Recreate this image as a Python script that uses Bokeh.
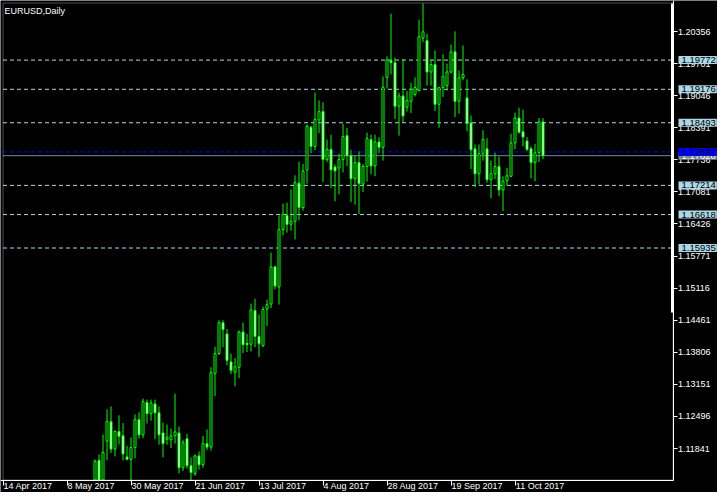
import numpy as np
from bokeh.plotting import figure
from bokeh.models import (ColumnDataSource, FixedTicker, Range1d, Label, LinearAxis,
                          PrintfTickFormatter, CustomJSTickFormatter, BoxAnnotation)
from bokeh.embed import file_html
from bokeh.resources import INLINE

# ---------------- data ----------------
symbol_title = "EURUSD,Daily"
first_bar = 23  # bar index of first visible candle (bar 0 = 14 Apr 2017)

opens = [1.1100, 1.1160, 1.1110, 1.1199, 1.1239, 1.1183, 1.1219, 1.1210, 1.1167, 1.1162,
         1.1186, 1.1243, 1.1212, 1.1278, 1.1255, 1.1275, 1.1257, 1.1216, 1.1203, 1.1202,
         1.1210, 1.1216, 1.1145, 1.1204, 1.1149, 1.1133, 1.1169, 1.1151, 1.1194, 1.1187,
         1.1337, 1.1378, 1.1441, 1.1418, 1.1361, 1.1340, 1.1350, 1.1422, 1.1399, 1.1397,
         1.1466, 1.1413, 1.1394, 1.1469, 1.1479, 1.1555, 1.1514, 1.1631, 1.1660, 1.1642,
         1.1648, 1.1726, 1.1676, 1.1753, 1.1840, 1.1801, 1.1855, 1.1872, 1.1774, 1.1795,
         1.1759, 1.1757, 1.1774, 1.1823, 1.1782, 1.1735, 1.1768, 1.1724, 1.1760, 1.1815,
         1.1761, 1.1810, 1.1799, 1.1942, 1.1976, 1.1972, 1.1883, 1.1904, 1.1881, 1.1893,
         1.1907, 1.1915, 1.2022, 1.2017, 1.1953, 1.1968, 1.1887, 1.1921, 1.1925, 1.1953,
         1.1994, 1.1893, 1.1941, 1.1900, 1.1849, 1.1796, 1.1745, 1.1786, 1.1796, 1.1733,
         1.1745, 1.1760, 1.1712, 1.1731, 1.1740, 1.1808, 1.1859, 1.1831, 1.1812, 1.1796,
         1.1768, 1.1788, 1.1851]
highs = [1.1162, 1.1172, 1.1213, 1.1264, 1.1270, 1.1221, 1.1252, 1.1236, 1.1190, 1.1207,
         1.1254, 1.1258, 1.1286, 1.1284, 1.1284, 1.1284, 1.1270, 1.1237, 1.1233, 1.1225,
         1.1296, 1.1229, 1.1202, 1.1214, 1.1166, 1.1172, 1.1178, 1.1210, 1.1223, 1.1350,
         1.1392, 1.1446, 1.1446, 1.1428, 1.1378, 1.1369, 1.1425, 1.1441, 1.1418, 1.1480,
         1.1490, 1.1458, 1.1474, 1.1488, 1.1584, 1.1557, 1.1660, 1.1684, 1.1686, 1.1713,
         1.1742, 1.1770, 1.1765, 1.1846, 1.1843, 1.1911, 1.1895, 1.1891, 1.1815, 1.1825,
         1.1764, 1.1786, 1.1847, 1.1839, 1.1794, 1.1782, 1.1791, 1.1765, 1.1829, 1.1825,
         1.1825, 1.1820, 1.1944, 1.1985, 1.2072, 1.1982, 1.1911, 1.1980, 1.1914, 1.1931,
         1.1942, 1.2060, 1.2093, 1.2031, 1.1978, 1.1997, 1.1923, 1.1989, 1.1970, 1.2009,
         1.2036, 1.1956, 1.2007, 1.1938, 1.1864, 1.1805, 1.1805, 1.1834, 1.1818, 1.1772,
         1.1788, 1.1780, 1.1740, 1.1757, 1.1827, 1.1870, 1.1880, 1.1876, 1.1820, 1.1801,
         1.1806, 1.1859, 1.1859]
lows = [1.1092, 1.1098, 1.1102, 1.1160, 1.1175, 1.1168, 1.1192, 1.1160, 1.1160, 1.1110,
        1.1164, 1.1204, 1.1205, 1.1235, 1.1241, 1.1203, 1.1192, 1.1166, 1.1192, 1.1185,
        1.1194, 1.1133, 1.1138, 1.1143, 1.1118, 1.1128, 1.1141, 1.1145, 1.1181, 1.1180,
        1.1291, 1.1375, 1.1391, 1.1354, 1.1336, 1.1311, 1.1328, 1.1379, 1.1381, 1.1382,
        1.1391, 1.1371, 1.1391, 1.1434, 1.1471, 1.1509, 1.1478, 1.1619, 1.1625, 1.1629,
        1.1611, 1.1650, 1.1670, 1.1725, 1.1787, 1.1793, 1.1828, 1.1728, 1.1769, 1.1716,
        1.1689, 1.1703, 1.1748, 1.1761, 1.1687, 1.1682, 1.1663, 1.1708, 1.1729, 1.1744,
        1.1740, 1.1787, 1.1772, 1.1919, 1.1948, 1.1857, 1.1823, 1.1850, 1.1872, 1.1869,
        1.1903, 1.1913, 1.2014, 1.1925, 1.1925, 1.1873, 1.1839, 1.1902, 1.1915, 1.1949,
        1.1861, 1.1868, 1.1936, 1.1832, 1.1755, 1.1718, 1.1723, 1.1772, 1.1727, 1.1695,
        1.1734, 1.1699, 1.1669, 1.1720, 1.1738, 1.1795, 1.1827, 1.1801, 1.1791, 1.1736,
        1.1730, 1.1769, 1.1775]
closes = [1.1158, 1.1110, 1.1176, 1.1239, 1.1183, 1.1219, 1.1209, 1.1173, 1.1162, 1.1186,
          1.1243, 1.1212, 1.1280, 1.1255, 1.1277, 1.1257, 1.1212, 1.1194, 1.1207, 1.1210,
          1.1218, 1.1145, 1.1196, 1.1149, 1.1135, 1.1169, 1.1151, 1.1194, 1.1187, 1.1339,
          1.1378, 1.1441, 1.1427, 1.1364, 1.1344, 1.1351, 1.1422, 1.1396, 1.1396, 1.1467,
          1.1413, 1.1398, 1.1468, 1.1478, 1.1555, 1.1516, 1.1631, 1.1663, 1.1642, 1.1648,
          1.1727, 1.1676, 1.1751, 1.1842, 1.1801, 1.1856, 1.1872, 1.1774, 1.1795, 1.1753,
          1.1751, 1.1774, 1.1821, 1.1782, 1.1735, 1.1768, 1.1725, 1.1760, 1.1817, 1.1761,
          1.1810, 1.1799, 1.1922, 1.1978, 1.1972, 1.1883, 1.1904, 1.1863, 1.1895, 1.1918,
          1.1921, 1.2025, 1.2035, 1.1953, 1.1968, 1.1887, 1.1921, 1.1944, 1.1953, 1.1994,
          1.1893, 1.1941, 1.1948, 1.1848, 1.1794, 1.1745, 1.1786, 1.1815, 1.1733, 1.1745,
          1.1760, 1.1712, 1.1730, 1.1741, 1.1808, 1.1859, 1.1830, 1.1820, 1.1795, 1.1768,
          1.1788, 1.1851, 1.1782]

date_tick_bars = [0, 16, 32, 48, 64, 80, 96, 112, 128]
date_tick_labels = ["14 Apr 2017", "8 May 2017", "30 May 2017", "21 Jun 2017", "13 Jul 2017",
                    "4 Aug 2017", "28 Aug 2017", "19 Sep 2017", "11 Oct 2017"]

price_ticks = [1.11841, 1.12496, 1.13151, 1.13806, 1.14461, 1.15116, 1.15771,
               1.16426, 1.17081, 1.17736, 1.18391, 1.19046, 1.19701, 1.20356]

level_prices = [1.19772, 1.19176, 1.18493, 1.17214, 1.16618, 1.15935]
marker_price = 1.17897
bid_price = 1.17820

# ---------------- layout constants (pixel geometry of the MT4 window) ----------------
W, H = 717, 492
PX = 4.0                 # pixels per bar
X0 = -2.5 / PX           # bar 0 centred on pixel column 2
PRICE_TOP = 1.20989      # price at the top pixel row
PPP = 0.00020419         # price per pixel


def px_to_x(px):
    return X0 + px / PX


def px_to_price(py):
    return PRICE_TOP - py * PPP


AXIS_X = px_to_x(672.5)          # right price scale position
AXIS_Y = px_to_price(479.5)      # bottom time scale position
LEFT_X = px_to_x(2.5)
TOP_Y = px_to_price(2.5)

FONT = "Liberation Sans"
FS = "9px"
BOX_FS = "9.5px"
GREEN = "#00FF00"
LEVEL_COLOR = "#ADD8E6"

p = figure(width=W, height=H, output_backend="svg", toolbar_location=None,
           x_range=Range1d(X0, X0 + W / PX), y_range=Range1d(px_to_price(H), PRICE_TOP),
           x_axis_location=None, y_axis_location=None,
           min_border_left=0, min_border_top=0, min_border_right=0, min_border_bottom=0,
           background_fill_color="black", border_fill_color="black",
           outline_line_color=None)
p.grid.visible = False

# horizontal levels (behind the candles, stop at the price scale)
n = len(level_prices)
p.segment(x0=[LEFT_X] * n, y0=level_prices, x1=[AXIS_X] * n, y1=level_prices,
          line_color=LEVEL_COLOR, line_dash="4 3", line_width=1, level="underlay")
p.segment(x0=[LEFT_X], y0=[bid_price], x1=[AXIS_X], y1=[bid_price],
          line_color="#778899", line_width=1, level="underlay")
p.segment(x0=[LEFT_X], y0=[marker_price], x1=[AXIS_X], y1=[marker_price],
          line_color="#0000FF", line_dash="4 3", line_width=1, level="underlay")

# candles (clipped at the time scale, as the terminal does)
o = np.array(opens)
c = np.array(closes)
x = np.arange(first_bar, first_bar + len(opens))
src = ColumnDataSource(dict(
    x=x,
    high=np.array(highs),
    low=np.maximum(np.array(lows), AXIS_Y),
    top=np.maximum(o, c),
    bottom=np.maximum(np.minimum(o, c), AXIS_Y),
    fill=["black" if cc >= oo else "white" for oo, cc in zip(o, c)],
))
p.segment(x0="x", y0="low", x1="x", y1="high", source=src, line_color=GREEN, line_width=1)
p.vbar(x="x", width=0.5, top="top", bottom="bottom", source=src,
       fill_color="fill", line_color=GREEN, line_width=1)

# chart border (top / left); right and bottom are the scales
p.add_layout(BoxAnnotation(left=LEFT_X, right=AXIS_X, bottom=AXIS_Y, top=TOP_Y,
                           fill_color=None, line_color="white", line_width=1))
# thick part of the right border
p.add_layout(BoxAnnotation(left=px_to_x(670.5), right=px_to_x(673), top=px_to_price(3),
                           bottom=px_to_price(312), fill_color="white", fill_alpha=1,
                           line_color=None))

# right price scale
ya = LinearAxis(fixed_location=AXIS_X, ticker=FixedTicker(ticks=price_ticks),
                formatter=PrintfTickFormatter(format="%.5f"),
                bounds=(AXIS_Y, PRICE_TOP))
ya.axis_line_color = "white"
ya.major_tick_line_color = "white"
ya.major_tick_out = 4
ya.major_tick_in = 0
ya.minor_tick_line_color = None
ya.major_label_standoff = 1
ya.major_label_text_color = "white"
ya.major_label_text_font = FONT
ya.major_label_text_font_size = FS
p.add_layout(ya, "right")

# bottom time scale: tick marks at the dates, labels left-aligned after each tick
CHAR_W = {"0": .556, "1": .556, "2": .556, "3": .556, "4": .556, "5": .556, "6": .556,
          "7": .556, "8": .556, "9": .556, " ": .278, "A": .667, "p": .556, "r": .333,
          "M": .833, "a": .556, "y": .5, "J": .5, "u": .556, "n": .556, "l": .222,
          "g": .556, "S": .667, "e": .556, "O": .778, "c": .5, "t": .278}
fs_px = float(FS.replace("px", ""))


def text_w(s):
    return sum(CHAR_W.get(ch, .556) for ch in s) * fs_px


label_pos = [b + (text_w(t) / 2.0 + 0.5) / PX for b, t in zip(date_tick_bars, date_tick_labels)]
xa = LinearAxis(fixed_location=AXIS_Y,
                ticker=FixedTicker(ticks=label_pos, minor_ticks=date_tick_bars),
                formatter=CustomJSTickFormatter(args=dict(pos=label_pos, lab=date_tick_labels), code="""
                    let best = 0, bd = 1e9;
                    for (let k = 0; k < pos.length; k++) {
                        const d = Math.abs(pos[k] - tick);
                        if (d < bd) { bd = d; best = k; }
                    }
                    return lab[best];
                """),
                bounds=(X0, AXIS_X))
xa.axis_line_color = "white"
xa.major_tick_line_color = None
xa.major_tick_out = 1
xa.major_tick_in = 0
xa.minor_tick_line_color = "white"
xa.minor_tick_out = 5
xa.minor_tick_in = 0
xa.major_label_standoff = -4
xa.major_label_text_color = "white"
xa.major_label_text_font = FONT
xa.major_label_text_font_size = FS
p.add_layout(xa, "below")

# price labels of the horizontal lines on the price scale
pad = dict(left=3, right=1, top=1, bottom=1)
for lv in level_prices:
    p.add_layout(Label(x=AXIS_X, y=lv, x_offset=5.5, text=f"{lv:.5f}",
                       text_align="left", text_baseline="middle", text_color="black",
                       text_font=FONT, text_font_size=BOX_FS,
                       background_fill_color=LEVEL_COLOR, padding=pad))
p.add_layout(Label(x=AXIS_X, y=bid_price, x_offset=5.5, text=f"{bid_price:.5f}",
                   text_align="left", text_baseline="middle", text_color="white",
                   text_font=FONT, text_font_size=BOX_FS,
                   background_fill_color="#778899", padding=pad))
p.add_layout(Label(x=AXIS_X, y=marker_price, x_offset=5.5, text=f"{marker_price:.5f}",
                   text_align="left", text_baseline="middle", text_color="black",
                   text_font=FONT, text_font_size=BOX_FS,
                   background_fill_color="#0000FF", padding=pad))

# chart title
p.add_layout(Label(x=4, x_units="screen", y=H - 5, y_units="screen", text=symbol_title,
                   text_align="left", text_baseline="top", text_color="white",
                   text_font=FONT, text_font_size=FS))

open("out.html", "w").write(file_html(p, INLINE))
